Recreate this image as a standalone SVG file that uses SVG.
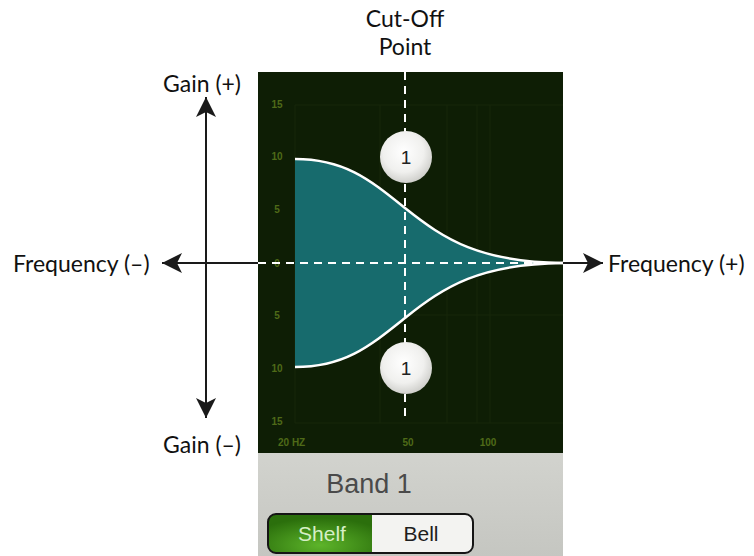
<svg xmlns="http://www.w3.org/2000/svg" width="754" height="556" viewBox="0 0 754 556">
<defs>
<style>
.lbl{font-family:Lato,"Open Sans",sans-serif;font-size:23px;fill:#111;}
.tick{font-family:"Liberation Sans",Arial,sans-serif;font-size:10px;font-weight:bold;fill:#4e6a18;}
.grid{stroke:#16270b;stroke-width:1;fill:none;}
.dash{stroke:#fff;stroke-width:2;stroke-dasharray:8 6;fill:none;}
.axis{stroke:#1a1a1a;stroke-width:2;fill:none;}
.curve{stroke:#fff;stroke-width:2.5;fill:none;}
</style>
<marker id="ah" viewBox="0 0 20 20" refX="20" refY="10" markerWidth="20" markerHeight="20" markerUnits="userSpaceOnUse" orient="auto">
<path d="M0,0 L20,10 L0,20 L5,10 Z" fill="#1a1a1a"/>
</marker>
<radialGradient id="knob" cx="0.45" cy="0.4" r="0.65">
<stop offset="0" stop-color="#ffffff"/>
<stop offset="0.6" stop-color="#f0f0ee"/>
<stop offset="1" stop-color="#c8c8c4"/>
</radialGradient>
<linearGradient id="grayp" x1="0" y1="0" x2="0" y2="1">
<stop offset="0" stop-color="#d2d3ce"/>
<stop offset="1" stop-color="#c5c6c1"/>
</linearGradient>
<radialGradient id="green" cx="0.5" cy="0.8" r="0.7">
<stop offset="0" stop-color="#5db42a"/>
<stop offset="1" stop-color="#2b6f0c"/>
</radialGradient>
</defs>

<g id="eq-panel">
<rect x="258" y="72" width="305" height="381" fill="#0e1e05"/>
<line class="grid" x1="295" y1="105" x2="563" y2="105"/>
<line class="grid" x1="295" y1="423" x2="563" y2="423"/>
<line class="grid" x1="295" y1="105" x2="295" y2="423"/>
<line class="grid" x1="380" y1="105" x2="380" y2="423"/>
<line class="grid" x1="447" y1="105" x2="447" y2="423"/>
<line class="grid" x1="477" y1="105" x2="477" y2="423"/>
<line class="grid" x1="490" y1="105" x2="490" y2="423"/>
<line class="grid" x1="295" y1="315" x2="563" y2="315"/>
<g text-anchor="middle">
<text class="tick" x="277" y="108">15</text>
<text class="tick" x="277" y="160">10</text>
<text class="tick" x="277" y="213">5</text>
<text class="tick" x="277" y="267">0</text>
<text class="tick" x="277" y="319">5</text>
<text class="tick" x="277" y="372">10</text>
<text class="tick" x="277" y="425">15</text>
<text class="tick" x="408" y="446">50</text>
<text class="tick" x="488" y="446">100</text>
</g>
<text class="tick" x="278" y="446">20 HZ</text>
<path d="M295,159 C345,159 370,180 405,208 C445,240 480,262 563,263 C480,264 445,286 405,318 C370,346 345,367 295,367 Z" fill="#176b6d"/>
<path class="curve" d="M295,159 C345,159 370,180 405,208 C445,240 480,262 563,263"/>
<path class="curve" d="M295,367 C345,367 370,346 405,318 C445,286 480,264 563,263"/>
</g>

<g id="cutoff-line">
<line class="dash" x1="405" y1="72" x2="405" y2="422"/>
<line class="dash" x1="258" y1="263" x2="563" y2="263"/>
</g>

<g id="knob-top">
<circle cx="406" cy="157" r="26" fill="url(#knob)"/>
<text x="406" y="164" text-anchor="middle" font-family="Liberation Sans,Arial,sans-serif" font-size="19" fill="#222">1</text>
</g>
<g id="knob-bottom">
<circle cx="406" cy="368" r="26" fill="url(#knob)"/>
<text x="406" y="375" text-anchor="middle" font-family="Liberation Sans,Arial,sans-serif" font-size="19" fill="#222">1</text>
</g>

<g id="band-panel">
<rect x="258" y="453" width="305" height="103" fill="url(#grayp)"/>
<text x="369" y="493" text-anchor="middle" font-family="Liberation Sans,Arial,sans-serif" font-size="27" fill="#4a4a4a">Band 1</text>
</g>

<g id="toggle">
<path d="M276,514 H372 V553 H276 A8,8 0 0 1 268,545 V522 A8,8 0 0 1 276,514 Z" fill="url(#green)"/>
<path d="M372,514 H465 A8,8 0 0 1 473,522 V545 A8,8 0 0 1 465,553 H372 Z" fill="#f3f3f1"/>
<rect x="268" y="514" width="205" height="39" rx="8" fill="none" stroke="#151515" stroke-width="2"/>
<text x="322" y="541" text-anchor="middle" font-family="Liberation Sans,Arial,sans-serif" font-size="21" fill="#d6efc6">Shelf</text>
<text x="421" y="541" text-anchor="middle" font-family="Liberation Sans,Arial,sans-serif" font-size="21" fill="#1e1e1e">Bell</text>
</g>

<g id="connectors">
<line class="axis" x1="206" y1="255" x2="206" y2="97" marker-end="url(#ah)"/>
<line class="axis" x1="206" y1="255" x2="206" y2="418" marker-end="url(#ah)"/>
<line class="axis" x1="258" y1="263" x2="162" y2="263" marker-end="url(#ah)"/>
<line class="axis" x1="563" y1="263" x2="603" y2="263" marker-end="url(#ah)"/>
</g>

<g id="labels">
<text class="lbl" x="405" y="27" text-anchor="middle">Cut-Off</text>
<text class="lbl" x="405" y="55" text-anchor="middle">Point</text>
<text class="lbl" x="202" y="92" text-anchor="middle">Gain (+)</text>
<text class="lbl" x="202" y="453" text-anchor="middle">Gain (–)</text>
<text class="lbl" x="13" y="272">Frequency (–)</text>
<text class="lbl" x="608" y="272">Frequency (+)</text>
</g>
</svg>
